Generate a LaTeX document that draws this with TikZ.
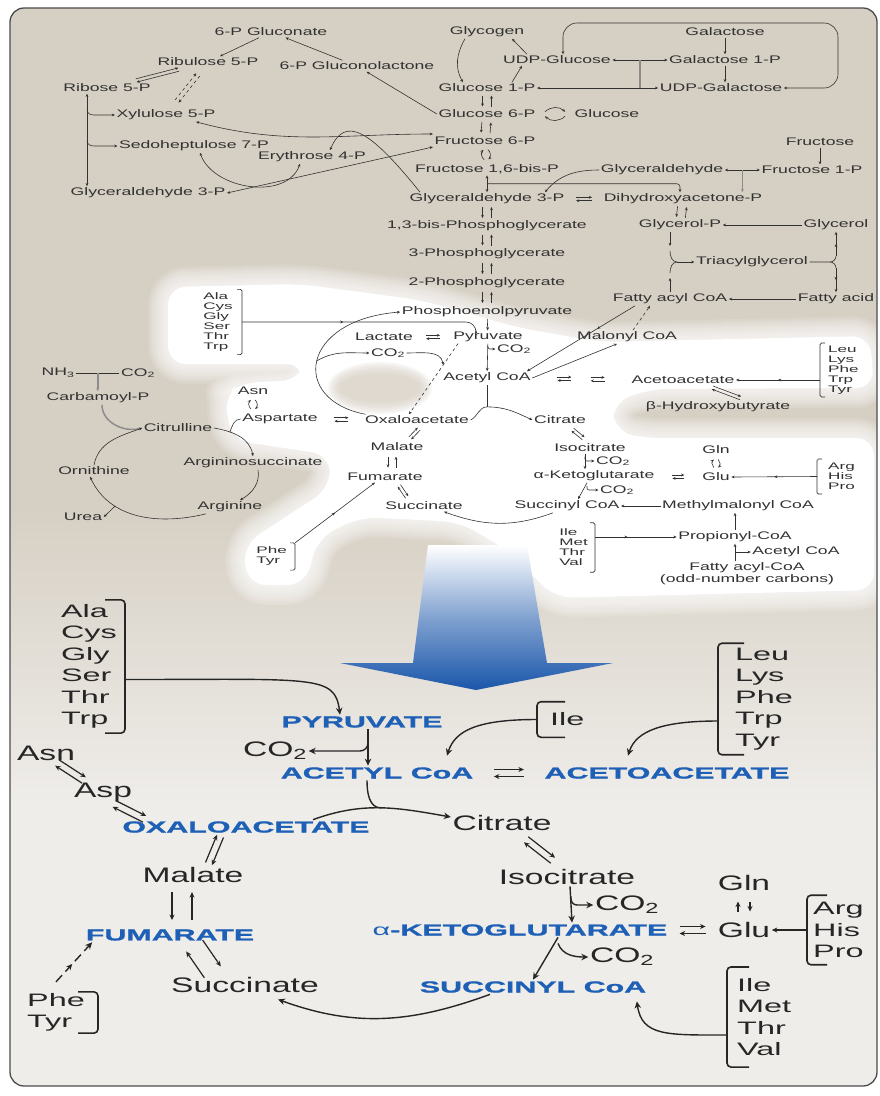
\documentclass[tikz,border=0pt]{standalone}
\usepackage{fontspec}
\setmainfont{Liberation Sans}
\newfontfamily\labfont{Liberation Sans}[FakeStretch=1.6]
\newfontfamily\listfont{Liberation Sans}[FakeStretch=1.8]
\newfontfamily\tcafont{Liberation Sans}[FakeStretch=1.9,BoldFeatures={FakeBold=1.2}]
\usetikzlibrary{positioning,calc,arrows.meta,decorations.markings}

\definecolor{beige}{RGB}{214,207,195}
\definecolor{paper}{RGB}{239,237,234}
\definecolor{tcablue}{RGB}{30,96,182}
\definecolor{arrowblue}{RGB}{26,86,170}
\definecolor{ink}{RGB}{50,50,50}
\definecolor{edge}{RGB}{75,75,75}

\pgfdeclareverticalshading{paperfade}{100bp}{color(0bp)=(paper); color(38bp)=(paper); color(52bp)=(beige); color(100bp)=(beige)}

\newcommand{\glowpath}{(168,287) -- (300,284) -- (420,300) -- (520,328) -- (600,342) -- (870,336) -- (874,388) -- (650,389) -- (612,403) -- (614,430) -- (640,438) -- (874,438) -- (874,590) -- (555,598) -- (510,552) -- (460,522) -- (360,517) -- (318,538) -- (305,585) -- (248,585) -- (243,545) -- (330,488) -- (330,455) -- (232,440) -- (224,395) -- (240,383) -- (300,380) -- (305,364) -- (168,364) -- cycle}

\begin{document}
\begin{tikzpicture}[x=1pt, y=-1pt, >={Stealth[length=3.2pt,width=2.8pt]},
  sm/.style={font=\labfont\fontsize{11}{12}\selectfont, text=ink, inner sep=1.5pt},
  sl/.style={font=\listfont\fontsize{9.5}{10}\selectfont, text=ink, align=left},
  lg/.style={font=\labfont\fontsize{21}{24}\selectfont, text=black!85, inner sep=1.5pt},
  bl/.style={font=\tcafont\bfseries\fontsize{16}{18}\selectfont, text=tcablue, inner sep=1.5pt},
  bls/.style={font=\listfont\fontsize{18}{21.5}\selectfont, text=black!85, align=left},
  sarr/.style={->, draw=ink, line width=0.6pt},
  sline/.style={draw=ink, line width=0.6pt},
  gbar/.style={->, draw=black!45, line width=1.5pt},
  barr/.style={draw=black!85, line width=1.4pt, -{Stealth[length=7pt,width=6.5pt]}},
  bsarr/.style={draw=black!85, line width=1.2pt, -{Stealth[length=5.5pt,width=5pt]}},
  bline/.style={draw=black!85, line width=1.4pt},
  sbrk/.style={draw=ink, line width=0.7pt, rounded corners=1.5pt},
  bbrk/.style={draw=black!85, line width=1.6pt, rounded corners=4pt},
  midarr/.style={postaction={decorate}, decoration={markings, mark=at position #1 with {\arrow{>}}}},
  midarr/.default=0.5,
  bmid/.style={postaction={decorate}, decoration={markings, mark=at position 0.45 with {\arrow{Stealth[length=6pt,width=5.5pt]}}}},
  pics/duo/.style args={#1/#2}{code={\draw[sarr] (-#1/2,-#2) -- (#1/2,-#2); \draw[sarr] (#1/2,#2) -- (-#1/2,#2);}},
  pics/cduo/.style={code={\draw[sarr] (-#1/2,-2.2) to[bend left=45] (#1/2,-2.2); \draw[sarr] (#1/2,2.2) to[bend left=45] (-#1/2,2.2);}},
  pics/bduo/.style args={#1/#2}{code={\draw[bsarr] (-#1/2,-#2) -- (#1/2,-#2); \draw[bsarr] (#1/2,#2) -- (-#1/2,#2);}}]

\useasboundingbox (0,0) rectangle (880,1096);
\shade[shading=paperfade, rounded corners=14] (10,8) rectangle (877,1086);
\foreach \w in {40,36,...,4}
  \draw[white, line width=\w, opacity=0.12, rounded corners=18, line join=round] \glowpath;
\fill[white, rounded corners=18] \glowpath;
\foreach \k in {0,2,...,12}
  \fill[beige, opacity=0.18] (380,388) ellipse [x radius=40+\k, y radius=14+\k];
\shade[top color=white, bottom color=arrowblue, middle color=arrowblue!55] (428,545) -- (527,545) -- (547,663) -- (613,663) -- (476,690) -- (340,663) -- (413,663) -- cycle;
\draw[edge, line width=1.3pt, rounded corners=14] (10,8) rectangle (877,1086);

\node[sm] (pg6) at (271,32) {6-P Gluconate};
\node[sm] (ru5) at (208,62) {Ribulose 5-P};
\node[sm] (gl6) at (357,66) {6-P Gluconolactone};
\node[sm] (ri5) at (107,88) {Ribose 5-P};
\node[sm] (xy5) at (166,115) {Xylulose 5-P};
\node[sm] (sh7) at (194,146) {Sedoheptulose 7-P};
\node[sm] (er4) at (312,157) {Erythrose 4-P};
\node[sm] (gapl) at (148,193) {Glyceraldehyde 3-P};
\node[sm] (gyn) at (487,32) {Glycogen};
\node[sm] (udpg) at (557,60) {UDP-Glucose};
\node[sm] (gal) at (725,32) {Galactose};
\node[sm] (gal1) at (725,60) {Galactose 1-P};
\node[sm] (g1p) at (487,88) {Glucose 1-P};
\node[sm] (udpgal) at (721,88) {UDP-Galactose};
\node[sm] (g6p) at (487,114) {Glucose 6-P};
\node[sm] (glc) at (607,114) {Glucose};
\node[sm] (f6p) at (485,141) {Fructose 6-P};
\node[sm] (fru) at (820,142) {Fructose};
\node[sm] (fbp) at (487,169) {Fructose 1,6-bis-P};
\node[sm] (glyald) at (662,170) {Glyceraldehyde};
\node[sm] (f1p) at (812,170) {Fructose 1-P};
\node[sm] (gap) at (487,199) {Glyceraldehyde 3-P};
\node[sm] (dhap) at (683,199) {Dihydroxyacetone-P};
\node[sm] (bpg) at (487,226) {1,3-bis-Phosphoglycerate};
\node[sm] (glp) at (680,225) {Glycerol-P};
\node[sm] (gly) at (836,225) {Glycerol};
\node[sm] (pg3) at (487,254) {3-Phosphoglycerate};
\node[sm] (tag) at (752,262) {Triacylglycerol};
\node[sm] (pg2) at (487,283) {2-Phosphoglycerate};
\node[sm] (fac) at (670,299) {Fatty acyl CoA};
\node[sm] (fa) at (836,299) {Fatty acid};
\node[sm] (pep) at (487,312) {Phosphoenolpyruvate};
\node[sm] (lac) at (384,337) {Lactate};
\node[sm] (pyr) at (488,337) {Pyruvate};
\node[sm] (mal) at (627,337) {Malonyl CoA};
\node[sm] (co2a) at (388,353) {CO\textsubscript{2}};
\node[sm] (co2b) at (514,349) {CO\textsubscript{2}};
\node[sm] (aca) at (487,378) {Acetyl CoA};
\node[sm] (acac) at (683,380) {Acetoacetate};
\node[sm] (bhb) at (718,407) {β-Hydroxybutyrate};
\node[sm] (nh3) at (58,373) {NH\textsubscript{3}};
\node[sm] (co2c) at (138,373) {CO\textsubscript{2}};
\node[sm] (cbp) at (98,398) {Carbamoyl-P};
\node[sm] (asn) at (253,391) {Asn};
\node[sm] (asp) at (280,419) {Aspartate};
\node[sm] (oaa) at (417,420) {Oxaloacetate};
\node[sm] (cit) at (560,420) {Citrate};
\node[sm] (citr) at (178,428) {Citrulline};
\node[sm] (mlt) at (397,447) {Malate};
\node[sm] (ict) at (590,448) {Isocitrate};
\node[sm] (gln) at (716,450) {Gln};
\node[sm] (asu) at (253,463) {Argininosuccinate};
\node[sm] (orn) at (94,471) {Ornithine};
\node[sm] (fum) at (385,477) {Fumarate};
\node[sm] (akg) at (594,476) {α-Ketoglutarate};
\node[sm] (co2d) at (613,461) {CO\textsubscript{2}};
\node[sm] (glu) at (716,477) {Glu};
\node[sm] (co2e) at (617,490) {CO\textsubscript{2}};
\node[sm] (suc) at (424,506) {Succinate};
\node[sm] (scoa) at (567,506) {Succinyl CoA};
\node[sm] (mmc) at (738,506) {Methylmalonyl CoA};
\node[sm] (arg) at (230,507) {Arginine};
\node[sm] (urea) at (83,517) {Urea};
\node[sm] (prop) at (735,537) {Propionyl-CoA};
\node[sm] (aca2) at (796,552) {Acetyl CoA};
\node[sm, align=center] (facb) at (747,574) {Fatty acyl-CoA\\(odd-number carbons)};
\node[sl, anchor=east, inner xsep=9pt, inner ysep=3pt] (aaa) at (242,322) {Ala\\Cys\\Gly\\Ser\\Thr\\Trp};
\node[sl, anchor=west, inner xsep=8pt, inner ysep=2.5pt] (aab) at (820,370) {Leu\\Lys\\Phe\\Trp\\Tyr};
\node[sl, anchor=west, inner xsep=11pt, inner ysep=4pt] (aac) at (817,476.5) {Arg\\His\\Pro};
\node[sl, anchor=east, inner xsep=8pt, inner ysep=4pt] (aad) at (295,556.5) {Phe\\Tyr};
\node[sl, anchor=east, inner xsep=7pt, inner ysep=6pt] (aae) at (595,547.5) {Ile\\Met\\Thr\\Val};

\node[bls, anchor=east, inner xsep=8pt, inner ysep=4.3pt] (bala) at (125,666.5) {Ala\\Cys\\Gly\\Ser\\Thr\\Trp};
\node[bl] (pyrb) at (362,722) {PYRUVATE};
\node[lg] (co2p) at (275,751) {CO\textsubscript{2}};
\node[bl] (acob) at (377,773) {ACETYL CoA};
\node[bls, anchor=west, inner xsep=13pt, inner ysep=11pt] (ileb) at (537,719.5) {Ile};
\node[bls, anchor=west, inner xsep=17pt, inner ysep=4.5pt] (leub) at (718,699) {Leu\\Lys\\Phe\\Trp\\Tyr};
\node[bl] (acacb) at (667,773) {ACETOACETATE};
\node[lg] (asnb) at (46,753) {Asn};
\node[lg] (aspb) at (103,792) {Asp};
\node[bl] (oaab) at (246,827) {OXALOACETATE};
\node[lg] (citb) at (502,823) {Citrate};
\node[lg] (mltb) at (193,875) {Malate};
\node[lg] (ictb) at (567,877) {Isocitrate};
\node[lg] (co2i) at (627,905) {CO\textsubscript{2}};
\node[bl] (akgb) at (520,930) {{\mdseries α}-KETOGLUTARATE};
\node[lg] (glnb) at (744,883) {Gln};
\node[lg] (glub) at (744,930) {Glu};
\node[bls, anchor=west, inner xsep=6pt, inner ysep=6.8pt] (argb) at (807,930) {Arg\\His\\Pro};
\node[bl] (fumb) at (170,935) {FUMARATE};
\node[lg] (co2s) at (622,957) {CO\textsubscript{2}};
\node[lg] (sucb) at (245,985) {Succinate};
\node[bl] (scoab) at (533,987) {SUCCINYL CoA};
\node[bls, anchor=west, inner xsep=10pt, inner ysep=11pt] (ilmv) at (727,1017) {Ile\\Met\\Thr\\Val};
\node[bls, anchor=east, inner xsep=13pt, inner ysep=1.3pt] (pheb) at (98,1012.5) {Phe\\Tyr};

\foreach \n in {aaa,aad,aae}
  \draw[sbrk] ([xshift=-5]\n.north east) -- (\n.north east) -- (\n.south east) -- ([xshift=-5]\n.south east);
\foreach \n in {aab,aac}
  \draw[sbrk] ([xshift=5]\n.north west) -- (\n.north west) -- (\n.south west) -- ([xshift=5]\n.south west);
\foreach \n/\h in {bala/20,pheb/20}
  \draw[bbrk] ([xshift=-\h]\n.north east) -- (\n.north east) -- (\n.south east) -- ([xshift=-\h]\n.south east);
\foreach \n/\h in {ileb/28,leub/26,argb/20,ilmv/22}
  \draw[bbrk] ([xshift=\h]\n.north west) -- (\n.north west) -- (\n.south west) -- ([xshift=\h]\n.south west);

\draw[sarr] (pg6) -- (ru5);
\draw[sarr] (gl6) -- (pg6);
\draw[sarr] (g6p.west) -- (gl6);
\path (ru5) -- (ri5) pic[midway,sloped]{duo=44/1.7};
\path (ru5) -- (xy5) pic[midway,sloped,dashed]{duo=34/2.2};
\coordinate (ppt) at ([xshift=-20]ri5.south);
\coordinate (ppb) at ([xshift=-61]gapl.north);
\draw[sarr,<->] (ppt) -- (ppb);
\draw[sarr] ($(ppt |- xy5.west)+(0,-5)$) to[out=-90,in=180] ($(ppt |- xy5.west)+(7,0)$) -- (xy5.west);
\draw[sarr] ($(ppt |- sh7.west)+(0,-5)$) to[out=-90,in=180] ($(ppt |- sh7.west)+(7,0)$) -- (sh7.west);
\draw[sarr,<->] ([xshift=30]xy5.south) to[out=-15,in=180] ([yshift=7]f6p.west);
\draw[sarr,<->] (gapl.east) -- ([yshift=-6]f6p.west);
\draw[sarr,<->] ([xshift=6]sh7.south) to[out=-70,in=-110] ([xshift=-12]er4.south);
\draw[sarr] ([xshift=12]gap.north west) .. controls (370,130) and (345,115) .. ([xshift=18]er4.north);

\draw[sarr] ([xshift=-22]gyn.south) to[out=-120,in=120] ([xshift=-24]g1p.north);
\draw[sarr] ([xshift=-30]udpg.north) -- ([xshift=25]gyn.south);
\draw[sarr] ([xshift=25]g1p.north) -- ([xshift=-35]udpg.south);
\coordinate (fk1) at ($(udpg.east)!0.5!(gal1.west)$);
\draw[sarr] (fk1) -- (udpg.east);
\draw[sarr] (fk1) -- (gal1.west);
\draw[draw=black!45, line width=1.5pt] (fk1) -- (fk1 |- g1p);
\draw[sarr] (fk1 |- g1p) -- (g1p.east);
\draw[sarr] (fk1 |- g1p) -- (udpgal.west);
\draw[sarr] (gal) -- (gal1);
\draw[sarr] (gal1.south) -- (gal1.south |- udpgal.north);
\coordinate (lp) at (838,23);
\draw[sarr,<->,rounded corners=14] (udpgal.east) -| (lp) -| ([xshift=6]udpg.north);

\foreach \a/\b in {g1p/g6p,g6p/f6p,gap/bpg,bpg/pg3,pg3/pg2,pg2/pep}
  \path (\a) -- (\b) pic[midway,sloped]{duo=11/-4.5};
\path (g6p) -- (glc) pic[midway]{cduo=20};
\path (f6p) -- (fbp) pic[midway,sloped]{cduo=10};
\draw[sarr,<->,line width=1pt] (fbp) -- (gap);
\draw[sarr,rounded corners=3] ($(fbp.south)!0.5!(gap.north)$) -| ([xshift=-3]dhap.north);
\draw[sarr] (glyald.west) to[out=180,in=50] ([xshift=58]gap.north);
\coordinate (fk2) at ($(glyald.east)!0.5!(f1p.west)$);
\draw[sarr] (fk2) -- (glyald.east);
\draw[sarr] (fk2) -- (f1p.west);
\draw[gbar] (fk2) -- (fk2 |- dhap.north);
\draw[sarr] (fru.south) -- (fru.south |- f1p.north);
\path (gap) -- (dhap) pic[midway]{duo=16/1.7};
\path (dhap) -- (glp) pic[midway,sloped]{duo=11/-4.5};
\draw[sarr] (gly) -- (glp);

\coordinate (tj) at ($(glp.south |- tag.west)+(-10,0)$);
\coordinate (tj1) at ($(tj)+(0,-16)$);
\coordinate (tj3) at ($(tj)+(0,16)$);
\draw[sarr] ([xshift=-10]glp.south) -- (tj1);
\draw[sarr] (fac.north) -- (tj3);
\draw[sline] ($(tj)+(0,-11)$) to[out=-90,in=180] ($(tj)+(7,0)$) to[out=180,in=90] ($(tj)+(0,11)$);
\draw[sarr] ($(tj)+(7,0)$) -- (tag.west);
\coordinate (tk) at (gly.south |- tag.east);
\draw[sline] (tag.east) -- ($(tk)+(-6,0)$) to[out=0,in=-90] ($(tk)+(0,-6)$);
\draw[sline] ($(tk)+(-6,0)$) to[out=0,in=90] ($(tk)+(0,6)$);
\draw[sarr,midarr] ($(tk)+(0,-6)$) -- (gly.south);
\draw[sarr,midarr] ($(tk)+(0,6)$) -- (fa.north);
\draw[sarr] (fa) -- (fac);

\draw[sarr] (aca.east) -- ([xshift=-10]mal.south);
\draw[sarr,dashed] ([xshift=6]mal.north) -- ([xshift=-20]fac.south);
\draw[sarr,midarr=0.35] ([xshift=-35]fac.south) -- ([xshift=40]aca.north);
\draw[sarr,rounded corners=10,midarr=0.42] (aaa.east) -| ([xshift=-12]pyr.north);
\draw[sarr] (pep) -- (pyr);
\path (lac) -- (pyr) pic[midway]{duo=14/1.7};
\draw[sarr] (pyr) -- (aca);
\draw[sarr,rounded corners=2] ($(pyr.south)+(0,4)$) |- (co2b.west);
\draw[sarr,dashed] ([xshift=-30]pyr.south) -- ([xshift=-8]oaa.north) coordinate[pos=0.3] (pdc);
\draw[sarr] ([xshift=2]oaa.north west) .. controls (290,400) and (300,320) .. (pep.west) coordinate[pos=0.5] (lp1);
\draw[sarr] (lp1) to[out=30,in=180] (co2a.west);
\draw[sarr] (co2a.east) to[out=0,in=100] (pdc);
\path (aca) -- (acac) pic[pos=0.33]{duo=14/1.7} pic[pos=0.67]{duo=14/1.7};
\draw[sarr,midarr] (aab.west |- acac.east) -- (acac.east);
\path ([xshift=24]acac.south) -- ([xshift=28]bhb.north) pic[midway,sloped]{duo=30/1.7};

\path (asp) -- (oaa) pic[midway]{duo=14/1.7};
\path (asn.south) -- (asn.south |- asp.north) pic[midway,sloped]{cduo=9};
\coordinate (cj2) at ($(aca.south)!0.75!(aca.south |- cit.north)$);
\draw[sline] (aca.south) -- (cj2);
\draw[sarr] (oaa.east) to[out=25,in=180] (cj2) to[out=0,in=155] (cit.west);
\path ([xshift=8]cit.south) -- ([xshift=-2]ict.north) pic[midway,sloped]{duo=14/1.7};
\path ([xshift=5]oaa.south) -- ([xshift=10]mlt.north) pic[midway,sloped]{duo=13/1.7};
\path ([xshift=-5]mlt.south) -- ([xshift=7]fum.north) pic[midway,sloped]{duo=11/-4};
\path ([xshift=12]fum.south) -- ([xshift=-15]suc.north) pic[midway,sloped]{duo=14/1.7};
\draw[sarr] ([xshift=-14]scoa.south) to[out=-160,in=-20] ([xshift=20]suc.south);
\draw[sarr] ([xshift=-5]ict.south) -- ([xshift=-9]akg.north);
\draw[sarr,rounded corners=2] ($(ict.south)+(-5,3)$) |- (co2d.west);
\draw[sarr] ([xshift=-7]akg.south) -- ([xshift=11]scoa.north);
\draw[sarr,rounded corners=2] ($(akg.south)+(-7,3)$) |- (co2e.west);
\path (akg) -- (glu) pic[midway]{duo=12/1.7};
\path (gln) -- (glu) pic[midway,sloped]{cduo=8};
\draw[sarr,midarr] (aac.west) -- (glu.east);
\draw[sarr] (mmc) -- (scoa);
\draw[sarr] (prop.north) -- (prop.north |- mmc.south);
\draw[sarr,midarr=0.4] (aae.east |- prop.west) -- (prop.west);
\draw[sarr] (facb.north -| prop.south) -- (prop.south);
\coordinate (pj) at (prop.south |- aca2.west);
\draw[sarr] (pj) -- (aca2.west);
\draw[sarr,midarr] (aad.north east) -- ([xshift=-10]fum.south);

\coordinate (uj) at ($(nh3.east)!0.5!(co2c.west)$);
\draw[sline] (nh3.east) -- (co2c.west);
\draw[gbar] (uj) -- (uj |- cbp.north);
\draw[gbar] ([xshift=4]cbp.south) to[out=-90,in=195] (citr.west);
\draw[sarr] (orn.north) to[out=80,in=200] (citr.west);
\draw[sarr] (citr.east) to[out=-10,in=100] coordinate[pos=0.3] (cj) (asu.north);
\draw[sline] (asp.west) to[out=180,in=70] (cj);
\draw[sarr] ([xshift=5]asu.south) to[out=-80,in=30] ([xshift=10]arg.north);
\draw[sarr] ([xshift=10]arg.south west) .. controls (160,525) and (110,520) .. ([xshift=-4]orn.south) coordinate[pos=0.7] (uj2);
\draw[sarr] (uj2) -- (urea.east);

\draw[barr] ([yshift=-13]bala.east) .. controls +(190,0) and +(-5,-40) .. ([xshift=-22]pyrb.north);
\draw[barr] ([xshift=6]pyrb.south) -- ([xshift=-9]acob.north);
\draw[barr,rounded corners=8] ($(pyrb.south)+(6,7)$) |- (co2p.east);
\draw[barr] (ileb.west) .. controls +(-60,0) and +(8,-25) .. ([xshift=70,yshift=10]acob.north);
\draw[barr] ([yshift=-22]leub.west) .. controls +(-55,0) and +(8,-25) .. ([xshift=-39,yshift=10]acacb.north);
\path (acob) -- (acacb) pic[midway]{bduo=30/3.5};
\path ([xshift=10]asnb.south) -- ([xshift=-18]aspb.north) pic[midway,sloped]{bduo=32/3.5};
\path ([xshift=10]aspb.south) -- ([xshift=25]oaab.north west) pic[midway,sloped]{bduo=34/3.5};
\draw[barr] ([xshift=67]oaab.north) to[out=20,in=170] coordinate[pos=0.5] (cjb) ([yshift=6]citb.west);
\draw[bline] ([xshift=-10]acob.south) to[out=-90,in=180] (cjb);
\path ([xshift=15]citb.south) -- ([xshift=-5]ictb.north) pic[midway,sloped]{bduo=34/3.5};
\draw[barr] ([xshift=3]ictb.south) -- ([xshift=52]akgb.north);
\draw[barr,rounded corners=6] ($(ictb.south)+(4,10)$) |- (co2i.west);
\path (akgb) -- (glub) pic[midway]{bduo=26/3.5};
\path (glnb) -- (glub) pic[midway,sloped]{bduo=10/6};
\draw[bsarr] (argb.west) -- (glub.east);
\draw[barr] ([xshift=38]akgb.south) -- (scoab.north);
\draw[barr] ($(akgb.south)+(38,6)$) to[out=-70,in=180] (co2s.west);
\draw[barr] ([yshift=-18]ilmv.west) .. controls +(-60,0) and +(5,35) .. ([xshift=-11,yshift=-7]scoab.south east);
\draw[barr] ([xshift=-43]scoab.south) to[out=200,in=-20] ([xshift=33,yshift=-5]sucb.south);
\path ([xshift=-25]oaab.south) -- ([xshift=15]mltb.north) pic[midway,sloped]{bduo=30/3.5};
\path ([xshift=-11]mltb.south) -- ([xshift=12]fumb.north) pic[midway,sloped]{bduo=28/-10};
\path ([xshift=22]fumb.south) -- ([xshift=-30]sucb.north) pic[midway,sloped]{bduo=32/10};
\draw[barr, dash pattern=on 9pt off 5pt, bmid] ([yshift=10]pheb.north) -- ([xshift=8]fumb.south west);
\end{tikzpicture}
\end{document}
